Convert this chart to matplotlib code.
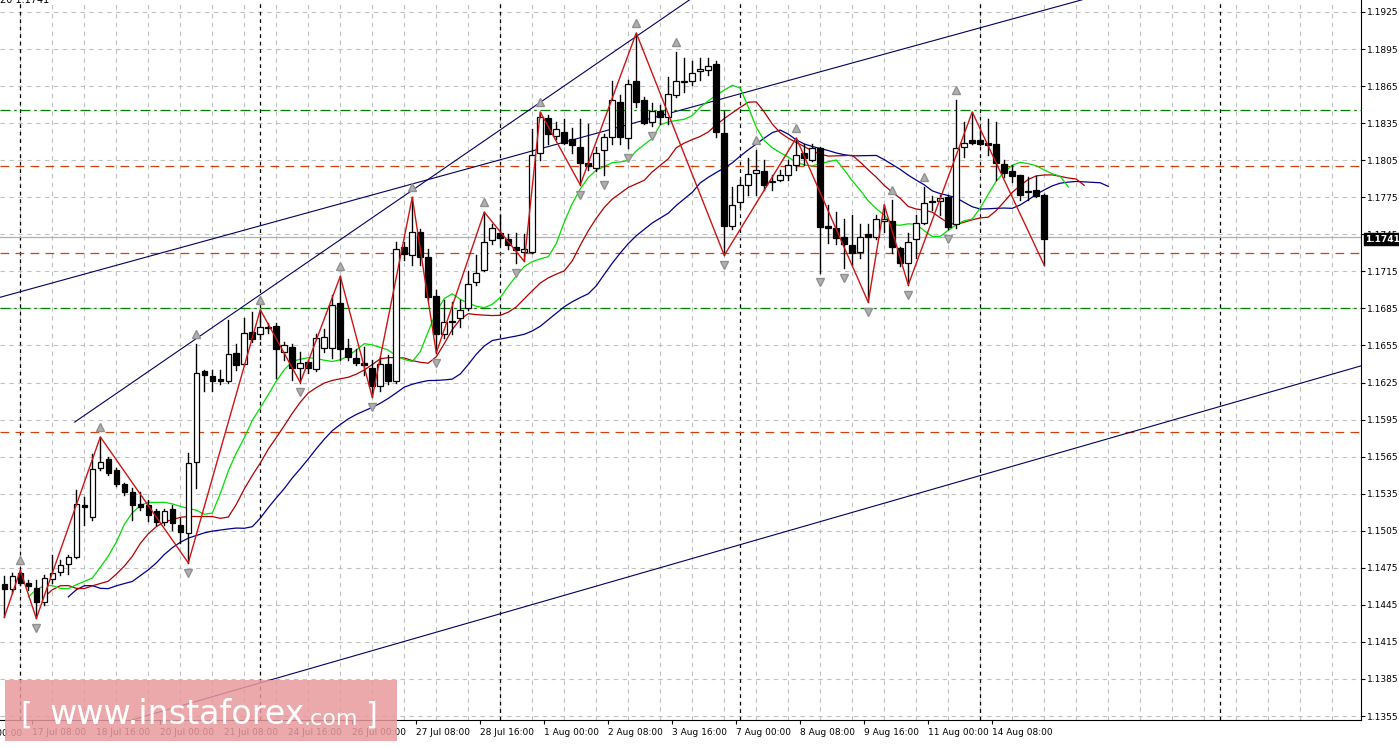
import numpy as np
import matplotlib
matplotlib.use("Agg")
import matplotlib.pyplot as plt
from matplotlib.patches import Rectangle

# OHLC in 1/10000 price units (H4 candles)
opens = [11462,11458,11471,11463,11459,11447,11466,11472,11478,11484,11526,11516,11556,11563,11554,11543,11536,11527,11526,11521,
         11512,11523,11510,11503,11561,11634,11630,11628,11626,11649,11640,11666,11664,11670,11671,11650,11654,11637,11642,11636,
         11653,11653,11689,11653,11645,11641,11637,11622,11640,11626,11735,11728,11747,11727,11695,11664,11674,11677,11685,11706,
         11716,11740,11746,11741,11735,11731,11731,11811,11839,11825,11828,11822,11816,11803,11799,11813,11824,11852,11823,11869,
         11854,11836,11845,11840,11858,11868,11869,11877,11878,11883,11827,11752,11771,11785,11795,11796,11787,11789,11793,11801,
         11811,11805,11815,11752,11750,11743,11736,11731,11745,11743,11756,11756,11734,11722,11741,11754,11771,11772,11775,11753,
         11816,11821,11821,11819,11818,11802,11796,11793,11780,11781,11777]
highs = [11468,11471,11473,11465,11465,11469,11485,11481,11485,11538,11532,11567,11581,11565,11556,11544,11540,11536,11530,11523,
         11523,11526,11515,11568,11656,11635,11635,11635,11676,11656,11677,11682,11684,11673,11673,11658,11656,11650,11643,11664,
         11668,11696,11711,11660,11652,11654,11643,11646,11647,11739,11739,11775,11749,11733,11700,11692,11690,11692,11715,11728,
         11763,11753,11761,11745,11746,11745,11830,11844,11842,11836,11838,11831,11838,11834,11816,11826,11869,11858,11870,11908,
         11856,11851,11850,11872,11893,11888,11885,11888,11888,11885,11845,11783,11789,11807,11813,11805,11793,11797,11805,11823,
         11818,11818,11816,11769,11763,11757,11761,11753,11753,11761,11769,11773,11735,11746,11761,11783,11776,11777,11777,11854,
         11836,11844,11831,11838,11836,11805,11801,11793,11791,11792,11778]
lows = [11435,11455,11461,11457,11434,11445,11463,11469,11470,11483,11510,11514,11554,11550,11541,11534,11514,11522,11513,11510,
        11510,11506,11495,11479,11540,11618,11618,11624,11625,11635,11639,11658,11660,11665,11629,11643,11627,11625,11633,11634,
        11650,11645,11643,11643,11639,11631,11613,11618,11624,11625,11724,11720,11720,11692,11649,11661,11664,11670,11684,11704,
        11715,11737,11737,11733,11722,11723,11730,11805,11818,11822,11818,11811,11785,11797,11796,11793,11818,11818,11815,11848,
        11834,11833,11834,11834,11856,11860,11866,11870,11874,11824,11728,11749,11767,11777,11777,11781,11781,11788,11789,11797,
        11801,11804,11714,11738,11737,11718,11720,11726,11690,11741,11747,11730,11719,11704,11726,11753,11765,11761,11749,11750,
        11808,11818,11817,11809,11789,11791,11787,11773,11773,11775,11720]
closes = [11458,11468,11463,11460,11447,11467,11471,11477,11484,11527,11524,11555,11561,11552,11543,11536,11526,11524,11518,11512,
          11521,11511,11504,11560,11633,11631,11626,11626,11648,11639,11665,11660,11670,11669,11652,11655,11637,11641,11637,11661,
          11662,11688,11652,11646,11641,11639,11622,11640,11626,11733,11729,11747,11727,11694,11664,11674,11675,11684,11705,11714,
          11739,11750,11742,11736,11732,11733,11809,11840,11826,11830,11819,11817,11803,11800,11811,11824,11854,11824,11867,11852,
          11835,11845,11840,11859,11869,11869,11876,11879,11881,11828,11752,11769,11785,11794,11797,11785,11788,11793,11801,11809,
          11807,11815,11751,11750,11742,11737,11730,11743,11743,11757,11757,11735,11722,11739,11754,11770,11772,11774,11751,11815,
          11819,11819,11818,11817,11803,11795,11792,11777,11779,11776,11741]

zz_idx = [0, 2, 4, 12, 23, 32, 37, 42, 46, 51, 54, 60, 65, 67, 72, 79, 90, 99, 108, 110, 113, 121, 130]
zz_type = ['L','H','L','H','L','H','L','H','L','H','L','H','L','H','L','H','L','H','L','H','L','H','L']

# trend lines: (index, price) anchors
trend_lines = [((8.8, 1.1593), (85.7, 1.1935)),
               ((-0.54, 1.1694), (134.8, 1.1935)),
               ((16.0, 1.1352), (169.6, 1.16385))]
green_levels = [1.1846, 1.1685]
red_levels = [1.1800, 1.1730, 1.1585]
ask_line = 1.1743
last_price = 1.1741

first_label = "16 Jul 00:00"
xtick_labels = ["17 Jul 08:00", "18 Jul 16:00", "20 Jul 00:00", "21 Jul 08:00", "24 Jul 16:00",
                "26 Jul 00:00", "27 Jul 08:00", "28 Jul 16:00", "1 Aug 00:00", "2 Aug 08:00", "3 Aug 16:00",
                "7 Aug 00:00", "8 Aug 08:00", "9 Aug 16:00", "11 Aug 00:00", "14 Aug 08:00"]

o = np.array(opens) / 1e4; h = np.array(highs) / 1e4
l = np.array(lows) / 1e4; c = np.array(closes) / 1e4
n = len(o); idx = np.arange(n)

fig = plt.figure(figsize=(13.99, 7.48), dpi=100)
ax = fig.add_axes([0, 28/748, 1361/1399, 720/748])

# grid
yt = np.round(np.arange(1.1355, 1.1926, 0.003), 4)
for y in yt:
    ax.axhline(y, color='#c0c0c0', lw=0.8, ls=(0, (4, 4)), zorder=0)
for xg in np.arange(2, 170, 4):
    ax.axvline(xg - 0.04, color='#c0c0c0', lw=0.8, ls=(0, (4, 4)), zorder=0)
for xs in [2, 32, 62, 92, 122, 152]:
    ax.axvline(xs - 0.04, color='black', lw=0.9, ls=(0, (3, 3)), zorder=1)

for lv in green_levels:
    ax.axhline(lv, color='#008000', lw=0.9, ls=(0, (8, 3, 2, 3)), zorder=1)
for lv in red_levels:
    ax.axhline(lv, color='#d04010', lw=0.9, ls=(0, (7, 5)), zorder=1)
ax.axhline(ask_line, color='#b0b0b0', lw=0.9, zorder=1)

for (x1, y1), (x2, y2) in trend_lines:
    ax.plot([x1, x2], [y1, y2], color='#000060', lw=0.8, zorder=2)

# alligator (SMMA of median price)
med = (h + l) / 2
def smma(x, p):
    out = np.empty_like(x)
    for i in range(p-1):
        out[i] = x[:i+1].mean()
    out[p-1] = x[:p].mean()
    for i in range(p, len(x)):
        out[i] = (out[i-1] * (p - 1) + x[i]) / p
    return out
for p, sh, col in [(13, 8, '#00008b'), (8, 5, '#b00000'), (5, 3, '#00dd00')]:
    ax.plot(idx + sh, smma(med, p), color=col, lw=0.9, zorder=3)

# candles
w = 0.7
for i in range(n):
    ax.plot([i, i], [l[i], h[i]], color='black', lw=1, zorder=4)
    bull = c[i] >= o[i]
    bot = min(o[i], c[i]); ht = max(abs(c[i] - o[i]), 0.00005)
    ax.add_patch(Rectangle((i - w/2, bot), w, ht, facecolor='white' if bull else 'black',
                           edgecolor='black', lw=0.9, zorder=5))

# zigzag
zy = [h[i] if t == 'H' else l[i] for i, t in zip(zz_idx, zz_type)]
ax.plot(zz_idx, zy, color='#cc1515', lw=1.0, zorder=6)

# fractals
for i in range(2, n - 2):
    if h[i] > max(h[i-2], h[i-1], h[i+1], h[i+2]):
        ax.plot(i, h[i] + 0.0008, marker='^', color='#b0b0b0', ms=6, mec='#909090', zorder=6)
    if l[i] < min(l[i-2], l[i-1], l[i+1], l[i+2]):
        ax.plot(i, l[i] - 0.0008, marker='v', color='#b0b0b0', ms=6, mec='#909090', zorder=6)

# axes styling
for s in ['top', 'left']:
    ax.spines[s].set_visible(False)
ax.yaxis.tick_right()
ax.set_yticks(yt)
ax.set_yticklabels([f"{v:.4f}" for v in yt], fontsize=6.5)
ax.tick_params(axis='y', length=3, pad=1.5, colors='black')
xt = [3.5 + 8*k for k in range(len(xtick_labels))]
ax.set_xticks(xt)
ax.set_xticklabels(xtick_labels, fontsize=6.5, ha='left')
ax.tick_params(axis='x', length=3, pad=3)
ax.set_xlim(-0.54, 169.6)
ax.set_ylim(1.13518, 1.19347)
ax.text(-4.5, -0.012, first_label, transform=ax.get_xaxis_transform(), fontsize=6.5,
        ha='left', va='top', clip_on=False)

ax.text(1.003, last_price, f"{last_price:.4f}", transform=ax.get_yaxis_transform(), fontsize=6.5,
        color='white', va='center', ha='left', fontweight='bold',
        bbox=dict(facecolor='black', edgecolor='black', boxstyle='square,pad=0.15'), zorder=10, clip_on=False)

fig.text(0.0, 1.0, "20 1.1741", fontsize=7, va='center', ha='left', color='black')

# watermark
fig.patches.append(Rectangle((5/1399, 7/748), 392/1399, 61/748, transform=fig.transFigure,
                             facecolor='#e89a9e', alpha=0.85, edgecolor='none', zorder=20))
fig.text(20/1399, 33/748, "[", fontsize=22, color='white', va='center', zorder=21)
fig.text(50/1399, 33/748, "www.instaforex", fontsize=24, color='white', va='center', zorder=21)
fig.text(304/1399, 29/748, ".com", fontsize=16, color='white', va='center', zorder=21)
fig.text(365/1399, 33/748, "]", fontsize=22, color='white', va='center', zorder=21)

fig.savefig("out.png", dpi=100, facecolor='white')
